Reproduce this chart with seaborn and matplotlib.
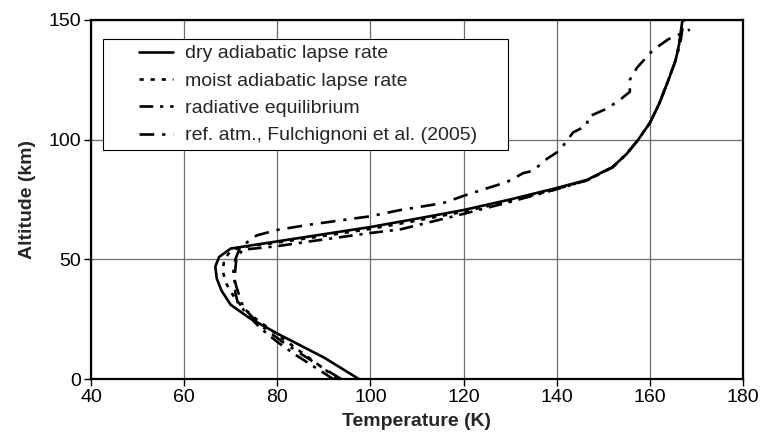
import matplotlib
matplotlib.use("Agg")
import matplotlib.pyplot as plt
import seaborn as sns
from matplotlib.patches import Rectangle

# temperature (K) / altitude (km) profiles
dry_T = [97.5, 90, 80, 74, 70, 68, 67, 66.7, 67.5, 70, 80, 90, 100, 110, 120, 130,
         140, 146.5, 152, 155, 157.5, 160, 162, 164, 165.5, 166.3, 167]
dry_z = [0, 9, 19, 25.5, 31, 37, 42, 47, 51, 54.5, 57.5, 60.5, 63.5, 67, 70.6, 75,
         79.8, 83.2, 88.6, 94, 100, 107, 115, 125, 133, 140, 150]

moist_T = [93, 89.5, 86, 82.5, 79, 75.5, 72.5, 70.5, 69, 68.3, 68.6, 70, 72, 80, 90, 100,
           110, 120, 130, 140, 146.5, 152, 155, 157.5, 160, 162, 164, 165.5, 166.3, 167]
moist_z = [0, 5, 10, 15, 20, 25, 30, 35, 40, 45, 50, 53.5, 55, 57, 59.8, 62.7,
           66.2, 69.9, 74.4, 79.4, 83, 88.6, 94, 100, 107, 115, 125, 133, 140, 150]

rad_T = [92, 88, 84, 80, 76.5, 73.5, 71.5, 71, 70.8, 71.2, 72.5, 80, 87, 100, 106.4,
         120, 130, 140, 146.5, 152, 155, 157.5, 160, 162, 164, 165.5, 166.5, 167.3]
rad_z = [0, 5, 10, 15.5, 21, 27, 32, 36, 42, 50, 54, 55.5, 57.5, 61, 62.5,
         69, 74, 79.3, 83, 88.4, 94, 100, 107, 115, 125, 133, 140, 150]

ref_T = [93.7, 89.5, 85.5, 81.5, 78, 75.5, 72.7, 71.3, 70.5, 71, 72, 75.6, 80, 87, 94, 100,
         106.4, 115.6, 120.7, 129.3, 132.8, 134.9, 137.9, 140.3, 141.8, 143.5, 146.5,
         146.7, 150.8, 153.6, 155.7, 155.7, 157.2, 160.7, 164, 168.6]
ref_z = [0, 5, 10, 15, 20, 24, 30, 38, 44, 50, 55, 60, 62.3, 64.5, 66.4, 68,
         70.6, 73.5, 77, 82.3, 86, 87, 92, 95, 98.5, 103, 106,
         109.5, 113, 116.7, 120, 125, 130, 137.5, 142, 146]

labels = ['dry adiabatic lapse rate', 'moist adiabatic lapse rate',
          'radiative equilibrium', 'ref. atm., Fulchignoni et al. (2005)']

sns.set_style('white')
plt.rcParams['font.family'] = ['Liberation Sans', 'DejaVu Sans']

fig = plt.figure(figsize=(7.62, 4.44), dpi=100)
ax = fig.add_axes([91 / 762, 1 - 379 / 444, 652 / 762, 359 / 444])

lw = 1.9
series = [
    (dry_T, dry_z, labels[0], None),
    (moist_T, moist_z, labels[1], (1.6, 2.6)),
    (rad_T, rad_z, labels[2], (5.2, 2.6, 1.2, 2.6)),
    (ref_T, ref_z, labels[3], (5.6, 3.0, 1.2, 3.0)),
]
for T, z, lab, dash in series:
    sns.lineplot(x=T, y=z, sort=False, estimator=None, color='black',
                 linewidth=lw, label=lab, ax=ax)
    if dash is not None:
        ax.lines[-1].set_dashes(dash)

ax.set_xlim(40, 180)
ax.set_ylim(0, 150)
ax.set_xticks(range(40, 181, 20))
ax.set_yticks([0, 50, 100, 150])
ax.grid(True, color='#6e6e6e', linewidth=0.9)
ax.set_axisbelow(True)
for s in ax.spines.values():
    s.set_visible(True)
    s.set_color('black')
    s.set_linewidth(1.6)
ax.tick_params(axis='both', which='major', labelsize=14, length=5, width=1,
               direction='out', colors='black', pad=2,
               bottom=True, left=True)
ax.set_xlabel('Temperature (K)', fontsize=14, fontweight='bold', labelpad=5)
ax.set_ylabel('Altitude (km)', fontsize=14, fontweight='bold', labelpad=9)

# legend without its own frame; a box with wider side padding is drawn below
leg = ax.legend(loc='upper left', bbox_to_anchor=(42 / 652, 340 / 359),
                borderaxespad=0, fontsize=14, frameon=False,
                handlelength=1.75, handletextpad=0.6, labelspacing=0.5,
                borderpad=0.3)
fig.canvas.draw()
bb = leg.get_window_extent().transformed(ax.transAxes.inverted())
padx = 30 / 652
box = Rectangle((bb.x0 - padx, bb.y0), bb.width + 2 * padx - 4 / 652, bb.height,
                transform=ax.transAxes, facecolor='white', edgecolor='black',
                linewidth=0.8, zorder=4.5)
ax.add_patch(box)
leg.set_zorder(5)

fig.savefig('out.png', dpi=100)
